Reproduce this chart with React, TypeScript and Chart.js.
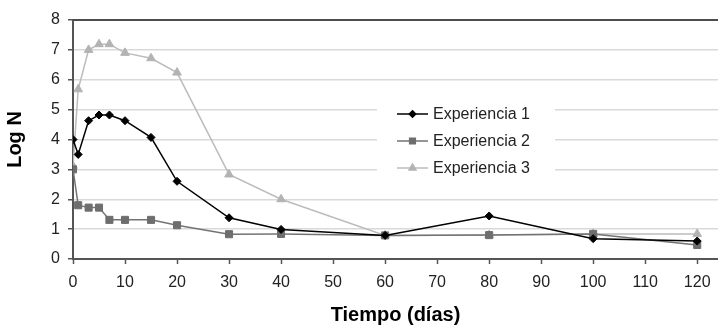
import React, { useEffect, useRef } from "react";
import { Chart, registerables } from "chart.js";
import { drawPoint } from "chart.js/helpers";

Chart.register(...registerables);

const days = [0, 1, 3, 5, 7, 10, 15, 20, 30, 40, 60, 80, 100, 120];
const exp1 = [4.0, 3.5, 4.63, 4.82, 4.82, 4.63, 4.07, 2.6, 1.38, 0.99, 0.79, 1.44, 0.68, 0.6];
const exp2 = [3.0, 1.8, 1.72, 1.72, 1.31, 1.31, 1.31, 1.13, 0.83, 0.84, 0.79, 0.8, 0.84, 0.47];
const exp3 = [3.12, 5.68, 7.0, 7.19, 7.19, 6.9, 6.72, 6.24, 2.83, 2.0, 0.79, 0.8, 0.84, 0.84];
const seriesNames = ["Experiencia 1", "Experiencia 2", "Experiencia 3"];
const xTitle = "Tiempo (días)";
const yTitle = "Log N";

const FONT = "'Liberation Sans', Arial, sans-serif";

const toPts = (vals: number[]) => vals.map((v, i) => ({ x: days[i], y: v }));

const frameAndLegend = {
  id: "frameAndLegend",
  afterDraw(chart: any) {
    const { ctx, chartArea } = chart;
    ctx.save();
    ctx.strokeStyle = "#4d4d4d";
    ctx.lineWidth = 2;
    ctx.beginPath();
    ctx.moveTo(chartArea.left, chartArea.top);
    ctx.lineTo(chartArea.right, chartArea.top);
    ctx.stroke();

    const left = chartArea.left + 304;
    const top = 98;
    const w = 178;
    const h = 90;
    ctx.fillStyle = "#ffffff";
    ctx.fillRect(left, top, w, h);
    chart.data.datasets.forEach((ds: any, i: number) => {
      const y = top + 16 + i * 27;
      const lx = left + 20;
      ctx.strokeStyle = ds.borderColor;
      ctx.lineWidth = ds.borderWidth;
      ctx.beginPath();
      ctx.moveTo(lx, y);
      ctx.lineTo(lx + 31, y);
      ctx.stroke();
      ctx.fillStyle = ds.pointBackgroundColor;
      ctx.strokeStyle = ds.pointBorderColor;
      drawPoint(ctx, { pointStyle: ds.pointStyle, rotation: 0, radius: ds.pointRadius * 0.8, borderWidth: 1 }, lx + 15.5, y);
      ctx.fillStyle = "#222222";
      ctx.font = `16px ${FONT}`;
      ctx.textBaseline = "middle";
      ctx.textAlign = "left";
      ctx.fillText(ds.label, lx + 36, y + 1);
    });
    ctx.restore();
  },
};

export default function App() {
  const ref = useRef<HTMLCanvasElement | null>(null);
  useEffect(() => {
    document.body.style.margin = "0";
    const chart = new Chart(ref.current as HTMLCanvasElement, {
      type: "line",
      data: {
        datasets: [
          {
            label: seriesNames[0],
            data: toPts(exp1),
            borderColor: "#000000",
            backgroundColor: "#000000",
            pointBackgroundColor: "#000000",
            pointBorderColor: "#000000",
            borderWidth: 1.5,
            pointStyle: "rectRot",
            pointRadius: 4,
            pointBorderWidth: 1,
          },
          {
            label: seriesNames[1],
            data: toPts(exp2),
            borderColor: "#737373",
            backgroundColor: "#6e6e6e",
            pointBackgroundColor: "#6e6e6e",
            pointBorderColor: "#6e6e6e",
            borderWidth: 1.5,
            pointStyle: "rect",
            pointRadius: 5,
            pointBorderWidth: 1,
          },
          {
            label: seriesNames[2],
            data: toPts(exp3),
            borderColor: "#bcbcbc",
            backgroundColor: "#b3b3b3",
            pointBackgroundColor: "#b3b3b3",
            pointBorderColor: "#b3b3b3",
            borderWidth: 1.5,
            pointStyle: "triangle",
            pointRadius: 5,
            pointBorderWidth: 1,
          },
        ] as any,
      },
      options: {
        animation: false,
        responsive: true,
        maintainAspectRatio: false,
        layout: { autoPadding: false, padding: { top: 20, right: 0, left: 0, bottom: 0 } },
        plugins: { legend: { display: false }, tooltip: { enabled: false } },
        scales: {
          x: {
            type: "linear",
            min: 0,
            max: 124,
            afterFit: (s: any) => {
              s.height = 66;
              s.paddingLeft = 0;
              s.paddingRight = 0;
            },
            ticks: {
              stepSize: 10,
              includeBounds: false,
              color: "#222222",
              font: { family: FONT, size: 16 },
              padding: 9,
              maxRotation: 0,
            },
            grid: {
              drawOnChartArea: false,
              drawTicks: true,
              tickLength: 5,
              tickColor: "#555555",
              tickWidth: 1.5,
            },
            border: { color: "#555555", width: 2 },
            title: {
              display: true,
              text: xTitle,
              color: "#000000",
              font: { family: FONT, size: 20, weight: "bold", lineHeight: 1 },
              padding: { top: 0, bottom: 0 },
            },
          },
          y: {
            min: 0,
            max: 8,
            afterFit: (s: any) => {
              s.width = 73;
            },
            ticks: {
              stepSize: 1,
              color: "#222222",
              font: { family: FONT, size: 16 },
              padding: 8,
            },
            grid: {
              color: "#d9d9d9",
              lineWidth: 1.5,
              tickLength: 5,
              tickColor: "#555555",
              tickWidth: 1.5,
            },
            border: { color: "#555555", width: 2 },
            title: {
              display: true,
              text: yTitle,
              color: "#000000",
              font: { family: FONT, size: 20, weight: "bold", lineHeight: 1 },
              padding: { top: 5, bottom: 0 },
            },
          },
        },
      } as any,
      plugins: [frameAndLegend],
    });
    return () => chart.destroy();
  }, []);
  return (
    <div style={{ position: "fixed", left: 0, top: 0, width: 718, height: 325 }}>
      <canvas ref={ref} />
    </div>
  );
}
